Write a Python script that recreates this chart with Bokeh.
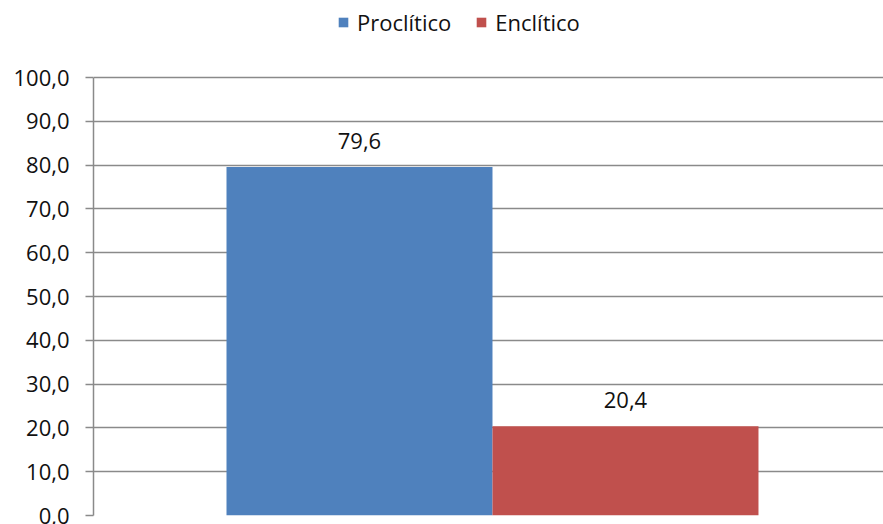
from bokeh.plotting import figure
from bokeh.models import ColumnDataSource, Range1d, FixedTicker, LabelSet, Legend, LegendItem
from bokeh.core.properties import value
from bokeh.embed import file_html
from bokeh.resources import INLINE

categories = ["Proclítico", "Enclítico"]
values = [79.6, 20.4]
colors = ["#4F81BD", "#C0504D"]
y_ticks = [0, 10, 20, 30, 40, 50, 60, 70, 80, 90, 100]
labels = [f"{v:.1f}".replace(".", ",") for v in values]

FONT = "Open Sans"
TXT = "#111111"
GRID = "#8a8a8a"

src = ColumnDataSource(dict(x=list(range(len(categories))), top=values,
                            color=colors, cat=categories, lab=labels))

p = figure(width=883, height=524, output_backend="svg", toolbar_location=None,
           x_range=Range1d(-1.0, 1.97), y_range=Range1d(0, 117.6),
           min_border_left=93, min_border_right=0, min_border_top=0, min_border_bottom=9)
p.outline_line_color = None
p.xaxis.visible = False
p.xgrid.visible = False

r = p.vbar(x="x", top="top", width=1.0, bottom=0, fill_color="color", line_color=None, source=src)

ax = p.yaxis[0]
ax.ticker = FixedTicker(ticks=y_ticks)
ax.bounds = (0, 100)
ax.major_label_overrides = {t: f"{t:.1f}".replace(".", ",") for t in y_ticks}
ax.axis_line_color = GRID
ax.axis_line_width = 1.5
ax.major_tick_line_color = GRID
ax.major_tick_line_width = 1.5
ax.major_tick_out = 8
ax.major_tick_in = 0
ax.minor_tick_line_color = None
ax.major_label_standoff = 16
ax.major_label_text_font = FONT
ax.major_label_text_font_size = "22px"
ax.major_label_text_color = TXT

g = p.ygrid[0]
g.ticker = FixedTicker(ticks=y_ticks)
g.grid_line_color = GRID
g.grid_line_width = 1.5

ls = LabelSet(x="x", y="top", text="lab", source=src, y_offset=18,
              text_align="center", text_baseline="alphabetic",
              text_font=value(FONT), text_font_size=value("22px"), text_color=TXT)
p.add_layout(ls)

items = [LegendItem(label=c, renderers=[r], index=i) for i, c in enumerate(categories)]
leg = Legend(items=items, orientation="horizontal", location=(244, 478),
             glyph_width=12, glyph_height=12, label_standoff=8, spacing=24,
             padding=0, margin=0, background_fill_alpha=0, border_line_color=None,
             label_text_font=FONT, label_text_font_size="22px", label_text_color=TXT)
p.add_layout(leg)

open("out.html", "w").write(file_html(p, INLINE))
